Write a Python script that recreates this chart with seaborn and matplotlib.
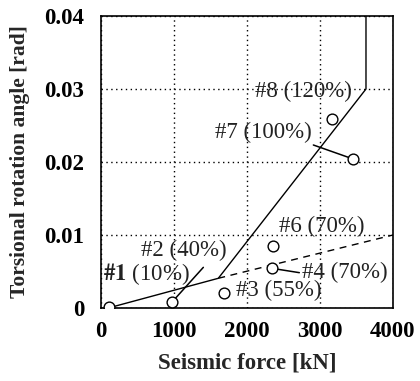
import matplotlib
matplotlib.use("Agg")
import matplotlib.pyplot as plt
import seaborn as sns
import pandas as pd

# Measured cases: seismic force [kN] vs torsional rotation angle [rad]
case_ids = ["#1", "#2", "#3", "#4", "#6", "#7", "#8"]
case_levels = ["10%", "40%", "55%", "70%", "70%", "100%", "120%"]
force_kn = [115, 977, 1689, 2338, 2356, 3457, 3169]
rotation = [0.0001, 0.00086, 0.0021, 0.00544, 0.00854, 0.0204, 0.02584]

# Analytical envelope (solid) and its elastic extension (dashed)
env_force = [100, 1607, 3630, 3630]
env_rot = [0.0, 0.00407, 0.030, 0.040]
ext_force = [1607, 4000]
ext_rot = [0.00407, 0.0100]

# Label anchor positions (left edge, vertical centre) and leader lines
label_x = [30, 544, 1845, 2749, 2443, 1562, 2110]
label_y = [0.00466, 0.00785, 0.00237, 0.00484, 0.01114, 0.0240, 0.02963]
leaders = {
    "#2": ([977, 1402], [0.00086, 0.00557]),
    "#4": ([2338, 2717], [0.00544, 0.00484]),
    "#7": ([3457, 2909], [0.0204, 0.02233]),
}

sns.set_style("white")
plt.rcParams["font.family"] = ["Liberation Serif", "DejaVu Serif"]
plt.rcParams["mathtext.fontset"] = "stix"

fig = plt.figure(figsize=(4.2, 3.81), dpi=100)
ax = fig.add_axes([0.2405, 0.1916, 0.6952, 0.7664])

env = pd.DataFrame({"force": env_force, "rot": env_rot})
ext = pd.DataFrame({"force": ext_force, "rot": ext_rot})
pts = pd.DataFrame({"force": force_kn, "rot": rotation})

sns.lineplot(data=env, x="force", y="rot", sort=False, color="black",
             linewidth=1.0, ax=ax, estimator=None)
sns.lineplot(data=ext, x="force", y="rot", sort=False, color="black",
             linewidth=1.0, linestyle=(0, (5, 4)), ax=ax, estimator=None)
for key, (lx, ly) in leaders.items():
    ax.plot(lx, ly, color="black", linewidth=1.1)
sns.scatterplot(data=pts, x="force", y="rot", marker="o", s=60,
                facecolor="white", edgecolor="black", linewidth=1.0,
                ax=ax, zorder=5)

for cid, lvl, tx, ty in zip(case_ids, case_levels, label_x, label_y):
    if cid == "#1":
        ax.text(tx, ty, r"$\mathbf{\#1}$ (" + lvl + ")", fontsize=16.5,
                va="center", ha="left", color="#222222")
    else:
        ax.text(tx, ty, f"{cid} ({lvl})", fontsize=16.5, va="center",
                ha="left", color="#222222")

ax.set_xlim(0, 4000)
ax.set_ylim(0, 0.04)
ax.set_xticks([0, 1000, 2000, 3000, 4000])
ax.set_xticklabels(["0", "1000", "2000", "3000", "4000"])
ax.set_yticks([0, 0.01, 0.02, 0.03, 0.04])
ax.set_yticklabels(["0", "0.01", "0.02", "0.03", "0.04"])
for lab in ax.get_xticklabels() + ax.get_yticklabels():
    lab.set_fontweight("bold")
    lab.set_fontsize(16.5)
ax.tick_params(direction="in", length=3, width=1, colors="black")
ax.tick_params(axis="y", pad=12)
ax.tick_params(axis="x", pad=9)
ax.grid(True, color="black", linestyle=(0, (1, 2.5)), linewidth=1.0)
for s in ax.spines.values():
    s.set_color("black")
    s.set_linewidth(1.2)

ax.set_xlabel("Seismic force [kN]", fontsize=16.5, fontweight="bold", labelpad=8)
ax.set_ylabel("Torsional rotation angle [rad]", fontsize=15.5,
              fontweight="bold", labelpad=10)

fig.savefig("out.png", dpi=100)
